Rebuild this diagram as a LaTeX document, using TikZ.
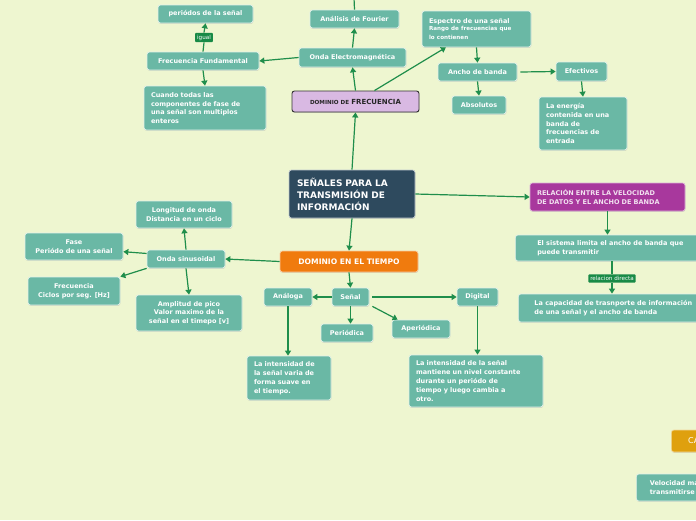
\documentclass[tikz,border=0pt]{standalone}
\usepackage{fontspec}
\setmainfont{DejaVu Sans}
\usepackage{tikz}
\usetikzlibrary{arrows.meta,shadows}
\definecolor{bgmap}{HTML}{EEF6D0}
\definecolor{tealx}{HTML}{6AB8A5}
\definecolor{edgex}{HTML}{E2F1EA}
\definecolor{linkx}{HTML}{1F8E4B}
\definecolor{tagx}{HTML}{188A46}
\definecolor{darkx}{HTML}{2E4A5E}
\definecolor{orangex}{HTML}{F07B0E}
\definecolor{purplex}{HTML}{A8389D}
\definecolor{lilacx}{HTML}{D9B9E3}
\definecolor{goldx}{HTML}{DFA00E}
\tikzset{
  card/.style={draw=edgex,line width=0.7pt,fill=tealx,rounded corners=2.5pt,text=white,
    font=\bfseries\fontsize{6.5}{8.8}\selectfont,align=center,inner sep=2pt,
    drop shadow={opacity=0.25,shadow xshift=0.4pt,shadow yshift=-0.9pt}},
  wh/.style 2 args={minimum width=#1,minimum height=#2},
  note/.style={card,align=left,text width=#1,inner xsep=7pt},
  ln/.style={-{Triangle[length=5pt,width=6pt]},line width=1.2pt,linkx},
  bare/.style={line width=1.2pt,linkx},
  tag/.style={fill=tagx,text=white,font=\fontsize{5.6}{6}\selectfont,rounded corners=1pt,inner sep=2pt}
}
\begin{document}
\begin{tikzpicture}[x=1pt,y=-1pt]
\useasboundingbox (0,0) rectangle (696,520);
\clip (0,0) rectangle (696,520);
\fill[bgmap] (0,0) rectangle (696,520);
% centro
\node[card,fill=darkx,draw=white!70!darkx,align=left,text width=110,inner xsep=8pt,wh={126}{48},
  font=\bfseries\fontsize{9}{12}\selectfont] (central) at (352,194) {SEÑALES PARA LA\\TRANSMISIÓN DE\\INFORMACIÓN};
% dominio de frecuencia
\node[card,fill=lilacx,draw=black!80,line width=0.9pt,text=black!85,wh={127}{21}] (domfreq) at (355.5,101.5)
  {{\fontsize{5.6}{7}\selectfont DOMINIO DE} {\fontsize{7}{8}\selectfont FRECUENCIA}};
\node[card,wh={107}{19}] (ondaem) at (352.5,57.5) {Onda Electromagnética};
\node[card,wh={89}{18}] (fourier) at (354.5,19) {Análisis de Fourier};
\coordinate (ftop) at (354,-2);
\node[card,wh={112}{18}] (ffund) at (203,61) {Frecuencia Fundamental};
\node[tag] (igual) at (204,37.5) {igual};
\node[card,wh={95}{18}] (peri) at (205.5,14) {periódos de la señal};
\node[note=108,wh={120}{44}] (cuando) at (205,108) {Cuando todas las\\componentes de fase de\\una señal son multiplos\\enteros};
\node[note=95,wh={107}{36}] (espectro) at (476.5,29)
  {Espectro de una señal\\{\fontsize{5.6}{7.6}\selectfont Rango de frecuencias que\\lo contienen}};
\node[card,wh={79}{18}] (ancho) at (477.5,72) {Ancho de banda};
\node[card,wh={54}{18}] (absol) at (479,105) {Absolutos};
\node[card,wh={51}{19}] (efect) at (581.5,71.5) {Efectivos};
\node[note=74,wh={86}{53}] (energia) at (583,123.5) {La energía\\contenida en una\\banda de\\frecuencias de\\entrada};
% relacion
\node[card,fill=purplex,draw=white!60!purplex,text=white!85!purplex,align=left,text width=141,inner xsep=7pt,wh={155}{28}]
  (relacion) at (607.5,197) {RELACIÓN ENTRE LA VELOCIDAD\\DE DATOS Y EL ANCHO DE BANDA};
\node[card,align=left,anchor=west,inner xsep=8pt,wh={190}{26}] (sistema) at (515,248)
  {El sistema limita el ancho de banda que\\puede transmitir};
\node[tag] (reldir) at (612,278.5) {relacion directa};
\node[card,align=left,anchor=west,inner xsep=8pt,wh={190}{28}] (capac) at (518,308)
  {La capacidad de trasnporte de información\\de una señal y el ancho de banda};
\node[card,fill=goldx,draw=white!60!goldx,anchor=west,inner xsep=8pt,wh={80}{22},font=\fontsize{8}{9}\selectfont]
  (cap) at (671,441) {CAPACIDAD};
\node[card,align=left,anchor=west,inner xsep=8pt,wh={150}{27}] (veloc) at (636,487.5)
  {Velocidad máxima a la que puede\\transmitirse la información};
% dominio en el tiempo
\node[card,fill=orangex,draw=white!60!orangex,wh={138}{21},font=\bfseries\fontsize{7.6}{9}\selectfont] (domtiempo) at (349,261.5) {DOMINIO EN EL TIEMPO};
\node[card,wh={78}{18}] (sinus) at (186,259) {Onda sinusoidal};
\node[card,wh={96}{27}] (longitud) at (184,214.5) {Longitud de onda\\Distancia en un ciclo};
\node[card,wh={98}{27}] (fase) at (74,246.5) {Fase\\Periódo de una señal};
\node[card,wh={92}{28}] (frec) at (74,291) {Frecuencia\\Ciclos por seg. [Hz]};
\node[card,wh={106}{36}] (amplitud) at (189,313) {Amplitud de pico\\Valor maximo de la\\señal en el timepo [v]};
\node[card,wh={37}{18}] (senal) at (350.5,297) {Señal};
\node[card,wh={48}{18}] (analoga) at (288,297) {Análoga};
\node[card,wh={52}{18}] (periodica) at (347,333) {Periódica};
\node[card,wh={58}{18}] (aperiodica) at (421,329) {Aperiódica};
\node[card,wh={41}{18}] (digital) at (477.5,297) {Digital};
\node[note=70,wh={82}{44}] (intsuave) at (289,378) {La intensidad de\\la señal varia de\\forma suave en\\el tiempo.};
\node[note=120,wh={132}{52}] (intconst) at (476,381) {La intensidad de la señal\\mantiene un nivel constante\\durante un periódo de\\tiempo y luego cambia a\\otro.};
% conectores
\draw[ln] (central.north) -- (domfreq.south);
\draw[ln] (domfreq.north) -- (ondaem.south);
\draw[ln] (domfreq.30) -- (espectro.211);
\draw[ln] (ondaem.north) -- (fourier.south);
\draw[bare] (fourier.north) -- (ftop);
\draw[ln] (ondaem.west) -- (ffund.east);
\draw[bare] (ffund.north) -- (igual.south);
\draw[ln] (igual.north) -- (peri.south);
\draw[ln] (ffund.south) -- (cuando.north);
\draw[ln] (espectro.south) -- (ancho.north);
\draw[ln] (ancho.south) -- (absol.north);
\draw[ln] ([xshift=3pt]ancho.east) -- (efect.west);
\draw[ln] (efect.south) -- (energia.north);
\draw[ln] (central.east) -- (relacion.west);
\draw[ln] (relacion.south) -- (relacion.south |- sistema.north);
\draw[bare] (reldir.north |- sistema.south) -- (reldir.north);
\draw[ln] (reldir.south) -- (reldir.south |- capac.north);
\draw[ln] (central.south) -- (domtiempo.north);
\draw[ln] (domtiempo.west) -- (sinus.east);
\draw[ln] (sinus.north) -- (longitud.south);
\draw[ln] (sinus.172) -- (fase.-6);
\draw[ln] (sinus.south west) -- (frec.north east);
\draw[ln] (sinus.south) -- (amplitud.north);
\draw[ln] (domtiempo.south) -- (senal.north);
\draw[ln] (senal.west) -- (analoga.east);
\draw[ln] (senal.south) -- (senal.south |- periodica.north);
\draw[ln] ([xshift=3pt]senal.south east) -- ([xshift=6pt]aperiodica.north west);
\draw[ln] ([xshift=3pt]senal.east) -- (digital.west);
\draw[ln] (analoga.south) -- (analoga.south |- intsuave.north);
\draw[ln] (digital.south) -- (digital.south |- intconst.north);
\end{tikzpicture}
\end{document}
